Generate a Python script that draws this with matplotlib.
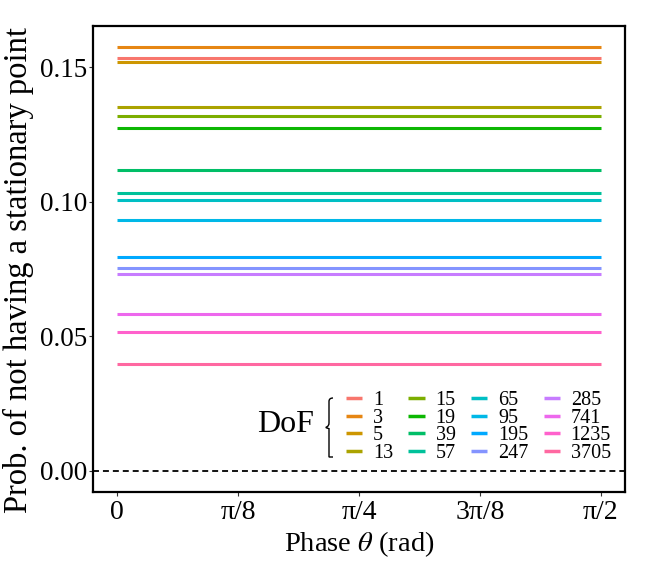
import numpy as np
import matplotlib
matplotlib.use("Agg")
import matplotlib.pyplot as plt
from matplotlib.path import Path
from matplotlib.patches import PathPatch

# data
dof = [1, 3, 5, 13, 15, 19, 39, 57, 65, 95, 195, 247, 285, 741, 1235, 3705]
prob = [0.1534, 0.1574, 0.1520, 0.1350, 0.1320, 0.1272, 0.1116, 0.1034,
        0.1007, 0.0930, 0.0795, 0.0753, 0.0730, 0.0583, 0.0516, 0.0395]
theta = [0.0, np.pi / 2]
xtick_vals = [0, np.pi / 8, np.pi / 4, 3 * np.pi / 8, np.pi / 2]
xtick_labels = ["0", "π/8", "π/4", "3π/8", "π/2"]
ytick_vals = [0.00, 0.05, 0.10, 0.15]


def hue_pal(n, c=100.0, l=65.0):
    """ggplot2-style hue palette (polar Luv -> sRGB)."""
    hues = np.linspace(15, 375, n + 1)[:n]
    xn, yn, zn = 95.047, 100.0, 108.883
    un = 4 * xn / (xn + 15 * yn + 3 * zn)
    vn = 9 * yn / (xn + 15 * yn + 3 * zn)
    m = np.array([[3.2404542, -1.5371385, -0.4985314],
                  [-0.9692660, 1.8760108, 0.0415560],
                  [0.0556434, -0.2040259, 1.0572252]])
    out = []
    for h in hues:
        u = c * np.cos(np.radians(h))
        v = c * np.sin(np.radians(h))
        Y = yn * ((l + 16) / 116) ** 3
        up = u / (13 * l) + un
        vp = v / (13 * l) + vn
        X = 9 * Y * up / (4 * vp)
        Z = Y * (12 - 3 * up - 20 * vp) / (4 * vp)
        rgb = m @ (np.array([X, Y, Z]) / 100)
        rgb = np.where(rgb <= 0.0031308, 12.92 * rgb,
                       1.055 * np.clip(rgb, 0, None) ** (1 / 2.4) - 0.055)
        out.append(tuple(np.clip(rgb, 0, 1)))
    return out


colors = hue_pal(len(dof))

plt.rcParams["font.family"] = ["Liberation Serif", "DejaVu Serif"]
plt.rcParams["mathtext.fontset"] = "stix"

fig = plt.figure(figsize=(6.52, 5.72), dpi=100)
ax = fig.add_axes([0.1426, 0.1399, 0.816, 0.8147])

handles = []
for d, p, col in zip(dof, prob, colors):
    ln, = ax.plot(theta, [p, p], color=col, lw=2.2, solid_capstyle="butt", label=str(d))
    handles.append(ln)

ax.axhline(0, color="black", lw=1.3, ls=(0, (3.3, 2.2)))

ax.set_xlim(-np.pi / 2 * 0.05, np.pi / 2 * 1.05)
ax.set_ylim(-0.0079, 0.1653)
ax.set_xticks(xtick_vals)
ax.set_xticklabels(xtick_labels)
ax.set_yticks(ytick_vals)
ax.set_yticklabels([f"{v:.2f}" for v in ytick_vals])
ax.tick_params(length=3.2, width=0.8, color="#333333")
ax.tick_params(axis="x", labelsize=20, pad=2.5)
ax.tick_params(axis="y", labelsize=19.5, pad=1)
for s in ax.spines.values():
    s.set_linewidth(1.6)

ax.set_xlabel(r"Phase $\theta$ (rad)", fontsize=20.5, labelpad=3)
ax.set_ylabel("Prob. of not having a stationary point", fontsize=23.5)
ax.yaxis.set_label_coords(-0.111, 0.477)

leg = ax.legend(handles=handles, ncol=4, frameon=False, fontsize=14.5,
                loc="upper left", bbox_to_anchor=(346 / 652, 1 - 391 / 572),
                bbox_transform=fig.transFigure, handlelength=0.8,
                handletextpad=0.55, columnspacing=0.75, labelspacing=-0.08,
                borderpad=0.0, borderaxespad=0.0)
for lh in leg.get_lines():
    lh.set_linewidth(2.5)

fig.text(285 / 652, 1 - 424 / 572, "DoF", fontsize=23, ha="center", va="center")

# curly brace next to the legend title
bx, by0, by1 = 329 / 652, 1 - 457 / 572, 1 - 398 / 572
w = 4 / 652
mid = (by0 + by1) / 2
verts = [(bx + w, by1), (bx, by1), (bx, by1 - 0.006), (bx, mid + 0.008),
         (bx, mid + 0.002), (bx - w * 0.6, mid + 0.001), (bx - w * 0.8, mid),
         (bx - w * 0.6, mid - 0.001), (bx, mid - 0.002), (bx, mid - 0.008),
         (bx, by0 + 0.006), (bx, by0), (bx + w, by0)]
codes = [Path.MOVETO, Path.CURVE3, Path.CURVE3, Path.LINETO,
         Path.CURVE3, Path.CURVE3, Path.LINETO, Path.CURVE3, Path.CURVE3,
         Path.LINETO, Path.CURVE3, Path.CURVE3, Path.LINETO]
fig.add_artist(PathPatch(Path(verts, codes), transform=fig.transFigure,
                         fill=False, lw=1.0, color="black"))

fig.savefig("out.png", dpi=100)
